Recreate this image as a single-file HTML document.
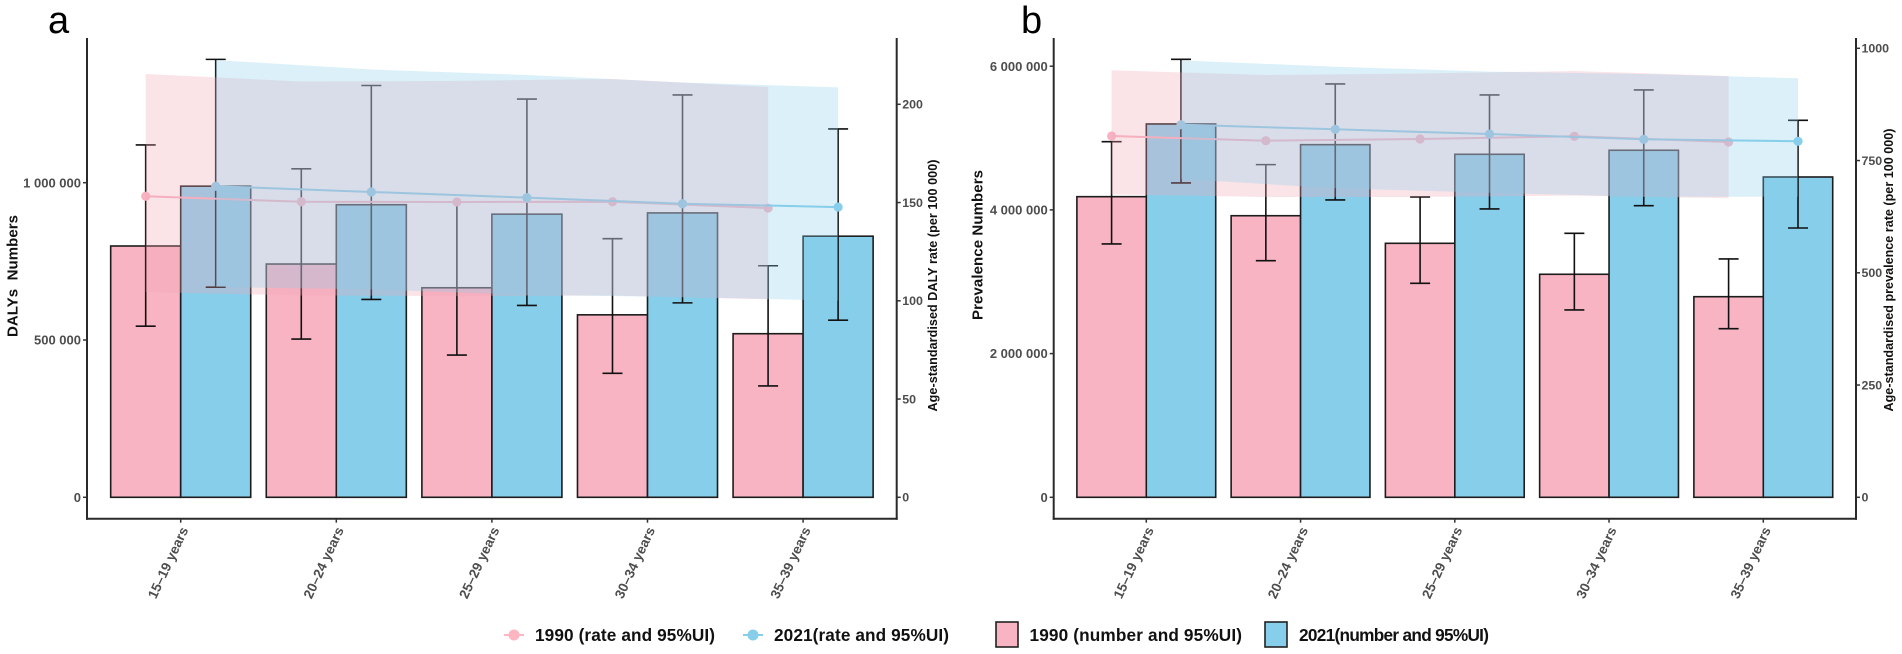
<!DOCTYPE html>
<html lang="en">
<head>
<meta charset="utf-8">
<title>DALYs and prevalence by age group, 1990 and 2021</title>
<style>
html,body{margin:0;padding:0;background:#fff;width:1902px;height:654px;overflow:hidden}
svg{display:block;font-family:"Liberation Sans",Arial,sans-serif}
.tick{font-size:13px;font-weight:700;fill:#4d4d4d}
.xtick{font-size:13.6px;font-weight:700;fill:#4d4d4d}
.tickr{font-size:12.4px;font-weight:700;fill:#4d4d4d}
.title{font-size:15px;font-weight:700;fill:#111}
.rtitle{font-size:12.6px;font-weight:700;fill:#111}
.panel{font-size:38px;fill:#000}
.leg{font-size:17.2px;font-weight:700;fill:#111}
</style>
</head>
<body>
<svg id="chart" xmlns="http://www.w3.org/2000/svg" width="1902" height="654" viewBox="0 0 1902 654">
  <rect x="0" y="0" width="1902" height="654" fill="#fff"/>
  <text class="panel" x="48" y="33">a</text>
  <text class="panel" x="1021" y="33">b</text>
  <text class="title" transform="translate(17.5,276) rotate(-90)" text-anchor="middle" xml:space="preserve" textLength="122">DALYs  Numbers</text>
  <text class="rtitle" transform="translate(937,285.5) rotate(-90)" text-anchor="middle" textLength="252">Age-standardised DALY rate (per 100 000)</text>
  <text class="title" transform="translate(982.5,245) rotate(-90)" text-anchor="middle" textLength="150">Prevalence Numbers</text>
  <text class="rtitle" transform="translate(1893,270) rotate(-90)" text-anchor="middle" textLength="283">Age-standardised prevalence rate (per 100 000)</text>
  <g id="panel-a"></g>
  <g id="panel-b"></g>
  <g>
    <g>
      <line x1="504" y1="635" x2="524" y2="635" stroke="#FFB6C1" stroke-width="2"/>
      <circle cx="514" cy="635" r="5.5" fill="#FFB6C1"/>
      <text class="leg" x="535" y="641" textLength="180">1990 (rate and 95%UI)</text>
    </g>
    <g>
      <line x1="743" y1="635" x2="763" y2="635" stroke="#87CEEB" stroke-width="2"/>
      <circle cx="753" cy="635" r="5.5" fill="#87CEEB"/>
      <text class="leg" x="774" y="641" textLength="175">2021(rate and 95%UI)</text>
    </g>
    <g>
      <rect x="996" y="622" width="22" height="25" fill="#F8B4C3" stroke="#222" stroke-width="1.6"/>
      <text class="leg" x="1029.5" y="641" textLength="212.5">1990 (number and 95%UI)</text>
    </g>
    <g>
      <rect x="1265" y="622" width="22" height="25" fill="#87CEEB" stroke="#222" stroke-width="1.6"/>
      <text class="leg" x="1299" y="641" textLength="190">2021(number and 95%UI)</text>
    </g>
  </g>
</svg>
<script>
// ---------- data ----------
const categories = ["15–19 years","20–24 years","25–29 years","30–34 years","35–39 years"];

// Panel a: DALYs
const dalysNumber1990 = [798800,741500,666000,580000,520000];
const dalysNumber2021 = [989000,930000,900000,904000,830000];
const dalysNumberLower1990 = [544000,503000,452000,394000,354000];
const dalysNumberUpper1990 = [1120000,1044000,926000,822000,736000];
const dalysNumberLower2021 = [668000,629000,610000,618000,563000];
const dalysNumberUpper2021 = [1392000,1309000,1266000,1279000,1171000];
const dalysRate1990 = [153.2,150.4,150.3,150.4,147.2];
const dalysRate2021 = [158.3,155.4,152.5,149.4,147.7];
const dalysRateLower1990 = [104.5,102.7,102.4,102.7,100.7];
const dalysRateUpper1990 = [215.4,211.6,211.9,212.9,208.8];
const dalysRateLower2021 = [107,105.8,103,101.9,100.1];
const dalysRateUpper2021 = [222.5,217.7,214.9,211.1,208.6];
const dalysLeftTicks = [0,500000,1000000];
const dalysLeftLabels = ["0","500 000","1 000 000"];
const dalysRightTicks = [0,50,100,150,200];
const dalysRightLabels = ["0","50","100","150","200"];

// Panel b: Prevalence
const prevNumber1990 = [4184000,3919000,3535000,3104000,2792000];
const prevNumber2021 = [5196000,4908000,4774000,4830000,4458000];
const prevNumberLower1990 = [3526000,3293000,2978000,2607000,2347000];
const prevNumberUpper1990 = [4949000,4630000,4180000,3674000,3317000];
const prevNumberLower2021 = [4375000,4138000,4013000,4059000,3748000];
const prevNumberUpper2021 = [6096000,5753000,5600000,5669000,5247000];
const prevRate1990 = [804.7,794.2,798,804,791.3];
const prevRate2021 = [829.9,819.6,809,797.3,792.9];
const prevRateLower1990 = [674.8,668.8,668.8,672,665.9];
const prevRateUpper1990 = [951,940.5,943.9,949.4,938.3];
const prevRateLower2021 = [709,688.2,678.4,669.5,669.5];
const prevRateUpper2021 = [973,959,948,942.8,933.2];
const prevLeftTicks = [0,2000000,4000000,6000000];
const prevLeftLabels = ["0","2 000 000","4 000 000","6 000 000"];
const prevRightTicks = [0,250,500,750,1000];
const prevRightLabels = ["0","250","500","750","1000"];

// ---------- drawing ----------
const NS = "http://www.w3.org/2000/svg";
const PINK = "#F8B4C3", BLUE = "#87CEEB", LINEPINK = "#F7B3C3", INK = "#1c1c1c";

function make(parent, tag, attrs, txt) {
  const e = document.createElementNS(NS, tag);
  for (const k in attrs) e.setAttribute(k, attrs[k]);
  if (txt !== undefined) e.textContent = txt;
  parent.appendChild(e);
  return e;
}

function drawPanel(o) {
  const g = document.getElementById(o.id);
  const xC = i => o.firstX + i * o.step;
  const off = 0.225 * o.step;
  const barW = 0.45 * o.step;
  const yN = v => o.zeroY - v * o.numPxPerUnit;
  const yR = v => o.zeroY - v * o.ratePxPerUnit;

  // bars
  categories.forEach((c, i) => {
    const b1 = make(g, "rect", {x: xC(i) - barW, y: yN(o.n1990[i]), width: barW, height: o.zeroY - yN(o.n1990[i]), fill: PINK, stroke: INK, "stroke-width": 1.6});
    
    
    const b2 = make(g, "rect", {x: xC(i), y: yN(o.n2021[i]), width: barW, height: o.zeroY - yN(o.n2021[i]), fill: BLUE, stroke: INK, "stroke-width": 1.6});
    
    
  });

  // error bars
  const drawErr = (xp, lo, hi, cap) => {
    const eg = make(g, "g", {stroke: "#111", "stroke-width": 1.6, fill: "none"});
    
    
    make(eg, "line", {x1: xp, x2: xp, y1: yN(hi), y2: yN(lo)});
    make(eg, "line", {x1: xp - 10, x2: xp + 10, y1: yN(lo), y2: yN(lo)});
    if (cap) make(eg, "line", {x1: xp - 10, x2: xp + 10, y1: yN(hi), y2: yN(hi)});
  };
  categories.forEach((c, i) => {
    drawErr(xC(i) - off, o.l1990[i], o.u1990[i], !(o.noTopCap1990 || []).includes(i));
    drawErr(xC(i) + off, o.l2021[i], o.u2021[i], true);
  });

  // rate lines and points
  const drawRate = (vals, dx, col, name) => {
    const pts = vals.map((v, i) => (xC(i) + dx) + "," + yR(v)).join(" ");
    const ln = make(g, "polyline", {points: pts, fill: "none", stroke: col, "stroke-width": 2});
    
    
    vals.forEach((v, i) => {
      const p = make(g, "circle", {cx: xC(i) + dx, cy: yR(v), r: 4.6, fill: col});
      
      
    });
  };
  drawRate(o.r1990, -off, LINEPINK, "rate-1990");
  drawRate(o.r2021, off, BLUE, "rate-2021");

  // ribbons
  const drawRibbon = (lo, hi, dx, col, name) => {
    const top = hi.map((v, i) => (xC(i) + dx) + "," + yR(v));
    const bot = lo.map((v, i) => (xC(i) + dx) + "," + yR(v)).reverse();
    const r = make(g, "polygon", {points: top.concat(bot).join(" "), fill: col, "fill-opacity": 0.3});
    
    
  };
  drawRibbon(o.rl1990, o.ru1990, -off, "#F2A5B2", "rate-ribbon-1990");
  drawRibbon(o.rl2021, o.ru2021, off, BLUE, "rate-ribbon-2021");

  // axes
  const axis = (x1, y1, x2, y2, name) => {
    const a = make(g, "line", {x1, y1, x2, y2, stroke: "#2a2a2a", "stroke-width": 2});
    
    
  };
  axis(o.left, o.top, o.left, o.bottom + 1, "left-axis-line");
  axis(o.right, o.top, o.right, o.bottom + 1, "right-axis-line");
  axis(o.left - 1, o.bottom, o.right + 1, o.bottom, "bottom-axis-line");

  // left ticks
  o.leftTicks.forEach((v, i) => {
    make(g, "line", {x1: o.left - 4, x2: o.left, y1: yN(v), y2: yN(v), stroke: "#333", "stroke-width": 1.5});
    const t = make(g, "text", {class: "tick", x: o.left - 6, y: yN(v) + 4.6, "text-anchor": "end"}, o.leftLabels[i]);
    
    
  });
  // right ticks
  o.rightTicks.forEach((v, i) => {
    make(g, "line", {x1: o.right, x2: o.right + 4, y1: yR(v), y2: yR(v), stroke: "#333", "stroke-width": 1.5});
    const t = make(g, "text", {class: "tickr", x: o.right + 5.5, y: yR(v) + 4.4}, o.rightLabels[i]);
    
    
  });
  // x ticks
  categories.forEach((c, i) => {
    make(g, "line", {x1: xC(i), x2: xC(i), y1: o.bottom, y2: o.bottom + 4, stroke: "#333", "stroke-width": 1.5});
    const px = xC(i) + 3.5, py = o.bottom + 9;
    const t = make(g, "text", {class: "xtick", "text-anchor": "end", dy: "0.35em", transform: "translate(" + px + "," + py + ") rotate(-65)"}, c);
    
    
  });
}

drawPanel({
  id: "panel-a", firstX: 180.7, step: 155.6, zeroY: 497.3,
  numPxPerUnit: 157.3 / 500000, ratePxPerUnit: 98.25 / 50,
  left: 87, right: 896.7, top: 38, bottom: 518.7,
  n1990: dalysNumber1990, n2021: dalysNumber2021,
  l1990: dalysNumberLower1990, u1990: dalysNumberUpper1990,
  l2021: dalysNumberLower2021, u2021: dalysNumberUpper2021,
  r1990: dalysRate1990, r2021: dalysRate2021,
  rl1990: dalysRateLower1990, ru1990: dalysRateUpper1990,
  rl2021: dalysRateLower2021, ru2021: dalysRateUpper2021,
  leftTicks: dalysLeftTicks, leftLabels: dalysLeftLabels,
  rightTicks: dalysRightTicks, rightLabels: dalysRightLabels,
  noTopCap1990: [2]
});

drawPanel({
  id: "panel-b", firstX: 1146.3, step: 154.25, zeroY: 497.3,
  numPxPerUnit: 143.7 / 2000000, ratePxPerUnit: 112.25 / 250,
  left: 1053.7, right: 1856, top: 38, bottom: 518.7,
  n1990: prevNumber1990, n2021: prevNumber2021,
  l1990: prevNumberLower1990, u1990: prevNumberUpper1990,
  l2021: prevNumberLower2021, u2021: prevNumberUpper2021,
  r1990: prevRate1990, r2021: prevRate2021,
  rl1990: prevRateLower1990, ru1990: prevRateUpper1990,
  rl2021: prevRateLower2021, ru2021: prevRateUpper2021,
  leftTicks: prevLeftTicks, leftLabels: prevLeftLabels,
  rightTicks: prevRightTicks, rightLabels: prevRightLabels
});
</script>
</body>
</html>
